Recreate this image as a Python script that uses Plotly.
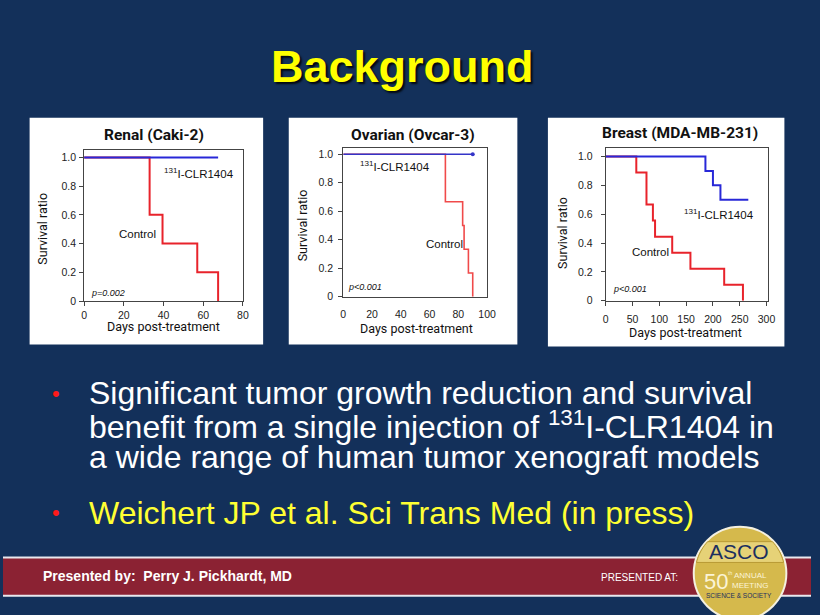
import numpy as np
import plotly.graph_objects as go

W, H = 820, 615

# ---------------- data ----------------
renal_ctrl_t = [0, 33, 39.5, 57, 67.5]
renal_ctrl_s = [1.0, 0.6, 0.4, 0.2, 0.0]
renal_trt_t = [0, 67.5]
renal_trt_s = [1.0, 1.0]

ovar_ctrl_t = [0, 71, 83, 84, 87, 90]
ovar_ctrl_s = [1.0, 0.667, 0.5, 0.333, 0.167, 0.0]
ovar_trt_t = [0, 90]
ovar_trt_s = [1.0, 1.0]

breast_ctrl_t = [0, 57, 76, 88, 92, 124, 158, 221, 256]
breast_ctrl_s = [1.0, 0.889, 0.667, 0.556, 0.444, 0.333, 0.222, 0.111, 0.0]
breast_trt_t = [0, 186, 200, 214, 266]
breast_trt_s = [1.0, 0.9, 0.8, 0.7, 0.7]

panel_titles = ["Renal (Caki-2)", "Ovarian (Ovcar-3)", "Breast (MDA-MB-231)"]
p_values = ["p=0.002", "p<0.001", "p<0.001"]
y_tickvals = [0, 0.2, 0.4, 0.6, 0.8, 1.0]
y_ticktext = ["0", "0.2", "0.4", "0.6", "0.8", "1.0"]
x_ticks_renal = [0, 20, 40, 60, 80]
x_ticks_ovar = [0, 20, 40, 60, 80, 100]
x_ticks_breast = [0, 50, 100, 150, 200, 250, 300]

bullets = [
    "Significant tumor growth reduction and survival",
    "benefit from a single injection of <sup>131</sup>I-CLR1404 in",
    "a wide range of human tumor xenograft models",
]
reference = "Weichert JP et al. Sci Trans Med (in press)"


def px(x):
    return x / W


def py(y):
    return 1 - y / H


NAVY = "#13305a"
RED = "#e8232b"
BLUE = "#2828d8"

fig = go.Figure()

fig.add_trace(go.Scatter(x=renal_ctrl_t, y=renal_ctrl_s, mode="lines", line=dict(color=RED, width=2, shape="hv"),
                         xaxis="x", yaxis="y", hoverinfo="skip"))
fig.add_trace(go.Scatter(x=renal_trt_t, y=renal_trt_s, mode="lines", line=dict(color=BLUE, width=2, shape="hv"),
                         xaxis="x", yaxis="y", hoverinfo="skip"))
fig.add_trace(go.Scatter(x=ovar_ctrl_t, y=ovar_ctrl_s, mode="lines", line=dict(color="#f04a4a", width=1.6, shape="hv"),
                         xaxis="x2", yaxis="y2", hoverinfo="skip"))
fig.add_trace(go.Scatter(x=ovar_trt_t, y=ovar_trt_s, mode="lines", line=dict(color="#3434c8", width=1.6, shape="hv"),
                         xaxis="x2", yaxis="y2", hoverinfo="skip"))
fig.add_trace(go.Scatter(x=[ovar_trt_t[-1]], y=[ovar_trt_s[-1]], mode="markers",
                         marker=dict(color="#3434c8", size=4), xaxis="x2", yaxis="y2", hoverinfo="skip"))
fig.add_trace(go.Scatter(x=breast_ctrl_t, y=breast_ctrl_s, mode="lines", line=dict(color=RED, width=2, shape="hv"),
                         xaxis="x3", yaxis="y3", hoverinfo="skip"))
fig.add_trace(go.Scatter(x=breast_trt_t, y=breast_trt_s, mode="lines", line=dict(color=BLUE, width=2, shape="hv"),
                         xaxis="x3", yaxis="y3", hoverinfo="skip"))

TICKFONT = dict(family="Arial, Liberation Sans", size=10.5, color="#222")


def xax(dom, rng, ticks, standoff, anchor, ticklen=4):
    return dict(domain=[px(dom[0]), px(dom[1])], range=rng, tickvals=ticks, showgrid=False, zeroline=False,
                showline=True, mirror=True, linecolor="#444", linewidth=1, ticks="outside", ticklen=ticklen,
                tickcolor="#444", tickfont=TICKFONT, ticklabelstandoff=standoff, fixedrange=True, anchor=anchor)


def yax(dom, rng, anchor, standoff):
    return dict(domain=[py(dom[1]), py(dom[0])], range=rng, tickvals=y_tickvals, ticktext=y_ticktext,
                showgrid=False, zeroline=False, showline=True, mirror=True, linecolor="#444", linewidth=1,
                ticks="outside", ticklen=4, tickcolor="#444", tickfont=TICKFONT, anchor=anchor,
                ticklabelstandoff=standoff, fixedrange=True)


fig.update_layout(
    width=W, height=H, margin=dict(l=0, r=0, t=0, b=0), paper_bgcolor=NAVY, plot_bgcolor="white",
    showlegend=False,
    xaxis=xax((82.3, 243.5), [0, 80], x_ticks_renal, 0, "y"),
    yaxis=yax((151, 304), [0, 1.055], "x", 1),
    xaxis2=xax((345.3, 491.3), [0, 100], x_ticks_ovar, 8, "y2", ticklen=0),
    yaxis2=yax((149.7, 299.7), [0, 1.042], "x2", 3),
    xaxis3=xax((611.7, 776.5), [0, 303], x_ticks_breast, 5, "y3"),
    yaxis3=yax((149.3, 303.7), [0, 1.06], "x3", 6),
)

shapes = []
for x0, x1, y0, y1 in [(27, 264, 119, 348), (290, 522, 119, 348), (553, 793, 119, 350)]:
    shapes.append(dict(type="rect", xref="paper", yref="paper", x0=px(x0), x1=px(x1), y0=py(y1), y1=py(y0),
                       fillcolor="white", line=dict(width=0), layer="below"))
shapes.append(dict(type="rect", xref="paper", yref="paper", x0=0, x1=1, y0=py(601), y1=py(563),
                   fillcolor="#8b2233", line=dict(width=0), layer="above"))
for yy in (563, 601.5):
    shapes.append(dict(type="line", xref="paper", yref="paper", x0=0, x1=1, y0=py(yy), y1=py(yy),
                       line=dict(color="#e8e8ee", width=2), layer="above"))
cx, cy, r = 748, 579, 47
shapes.append(dict(type="circle", xref="paper", yref="paper", x0=px(cx - r), x1=px(cx + r), y0=py(cy + r),
                   y1=py(cy - r), fillcolor="#d5b94c", line=dict(color="#f4f0e0", width=2), layer="above"))
b_top, b_bot = 547, 568
ys = np.linspace(b_top, b_bot, 12)
half = np.sqrt(np.maximum(r ** 2 - (ys - cy) ** 2, 0)) - 1.5
pts = [(cx - h, y) for h, y in zip(half, ys)] + [(cx + h, y) for h, y in zip(half[::-1], ys[::-1])]
path = "M " + " L ".join(f"{px(x):.5f},{py(y):.5f}" for x, y in pts) + " Z"
shapes.append(dict(type="path", xref="paper", yref="paper", path=path, fillcolor="#e6d277",
                   line=dict(color="#b89a35", width=1), layer="above"))
fig.update_layout(shapes=shapes)

ann = []
ann.append(dict(text="<b>Background</b>", x=px(405), y=py(67), xref="paper", yref="paper", showarrow=False,
                font=dict(family="Arial, Liberation Sans", size=45, color="#ffff00",
                          shadow="2px 2px 2px rgba(0,0,0,0.85)"), xanchor="center", yanchor="middle"))

TITLEFONT = dict(family="Roboto, Arial", size=15.5, color="#111")
AXFONT = dict(family="Roboto, Arial", size=12.5, color="#111")
for t, (xc, yc) in zip(panel_titles, [(153, 136), (416, 136), (687, 134)]):
    ann.append(dict(text=f"<b>{t}</b>", x=px(xc), y=py(yc), xref="paper", yref="paper", showarrow=False,
                    font=TITLEFONT, xanchor="center", yanchor="middle"))
for (xc, yc) in [(162.5, 330), (419.7, 332), (693, 335.5)]:
    ann.append(dict(text="Days post-treatment", x=px(xc), y=py(yc), xref="paper", yref="paper",
                    showarrow=False, font=AXFONT, xanchor="center", yanchor="middle"))
for (xc, yc) in [(40, 230.5), (304, 228), (568, 235.5)]:
    ann.append(dict(text="Survival ratio", x=px(xc), y=py(yc), xref="paper", yref="paper", textangle=-90,
                    showarrow=False, font=AXFONT, xanchor="center", yanchor="middle"))

LBL = dict(family="Arial, Liberation Sans", size=11.5, color="#111")
PF = dict(family="Arial, Liberation Sans", size=9, color="#111")
inner = [
    ("x", "y", (39, 0.89), (16.4, 0.47), (2.5, 0.055)),
    ("x2", "y2", (10, 0.917), (56, 0.37), (2, 0.07)),
    ("x3", "y3", (143, 0.6), (45, 0.34), (9, 0.08)),
]
for i, (xr, yr, lab1, lab2, lab3) in enumerate(inner):
    ann.append(dict(text="<sup>131</sup>I-CLR1404", x=lab1[0], y=lab1[1], xref=xr, yref=yr, showarrow=False,
                    font=LBL, xanchor="left", yanchor="middle"))
    ann.append(dict(text="Control", x=lab2[0], y=lab2[1], xref=xr, yref=yr, showarrow=False,
                    font=LBL, xanchor="left", yanchor="middle"))
    ann.append(dict(text=f"<i>{p_values[i]}</i>", x=lab3[0], y=lab3[1], xref=xr, yref=yr, showarrow=False,
                    font=PF, xanchor="left", yanchor="middle"))

BF = dict(family="Arial, Liberation Sans", size=32, color="white")
for line, yc in zip(bullets, [397, 429.5, 462]):
    ann.append(dict(text=line, x=px(85), y=py(yc), xref="paper", yref="paper", showarrow=False, font=BF,
                    xanchor="left", yanchor="middle"))
ann.append(dict(text=reference, x=px(85), y=py(518), xref="paper", yref="paper", showarrow=False,
                font=dict(family="Arial, Liberation Sans", size=32, color="#ffff33"), xanchor="left",
                yanchor="middle"))
for yc in (397, 518):
    ann.append(dict(text="•", x=px(54), y=py(yc), xref="paper", yref="paper", showarrow=False,
                    font=dict(family="Arial", size=22, color="#ff1a1a"), xanchor="center", yanchor="middle"))

ann.append(dict(text="<b>Presented by:  Perry J. Pickhardt, MD</b>", x=px(39), y=py(582), xref="paper",
                yref="paper", showarrow=False, xanchor="left", yanchor="middle",
                font=dict(family="Liberation Sans Narrow, Arial Narrow, Arial", size=14, color="white")))
ann.append(dict(text="PRESENTED AT:", x=px(646), y=py(583), xref="paper", yref="paper", showarrow=False,
                xanchor="center", yanchor="middle",
                font=dict(family="Liberation Sans Narrow, Arial Narrow, Arial", size=10, color="white")))
ann.append(dict(text="ASCO", x=px(747), y=py(557), xref="paper", yref="paper", showarrow=False,
                xanchor="center", yanchor="middle", font=dict(family="Arial", size=21, color="#1c2f5f")))
ann.append(dict(text="50", x=px(724), y=py(587), xref="paper", yref="paper", showarrow=False,
                xanchor="center", yanchor="middle", font=dict(family="Arial", size=22, color="#fbf4d6")))
ann.append(dict(text="th", x=px(738), y=py(579), xref="paper", yref="paper", showarrow=False,
                xanchor="center", yanchor="middle", font=dict(family="Arial", size=5, color="#fbf4d6")))
ann.append(dict(text="ANNUAL<br>MEETING", x=px(758), y=py(586.5), xref="paper", yref="paper", showarrow=False,
                xanchor="center", yanchor="middle", align="center",
                font=dict(family="Liberation Sans Narrow, Arial", size=8, color="#fbf4d6")))
ann.append(dict(text="SCIENCE &amp; SOCIETY", x=px(747), y=py(601), xref="paper", yref="paper", showarrow=False,
                xanchor="center", yanchor="middle",
                font=dict(family="Liberation Sans Narrow, Arial", size=6.5, color="#1c2f5f")))

fig.update_layout(annotations=ann)
fig.write_html("out.html", config={"displayModeBar": False},
               post_script="document.body.style.margin='0';document.body.style.overflow='hidden';")
